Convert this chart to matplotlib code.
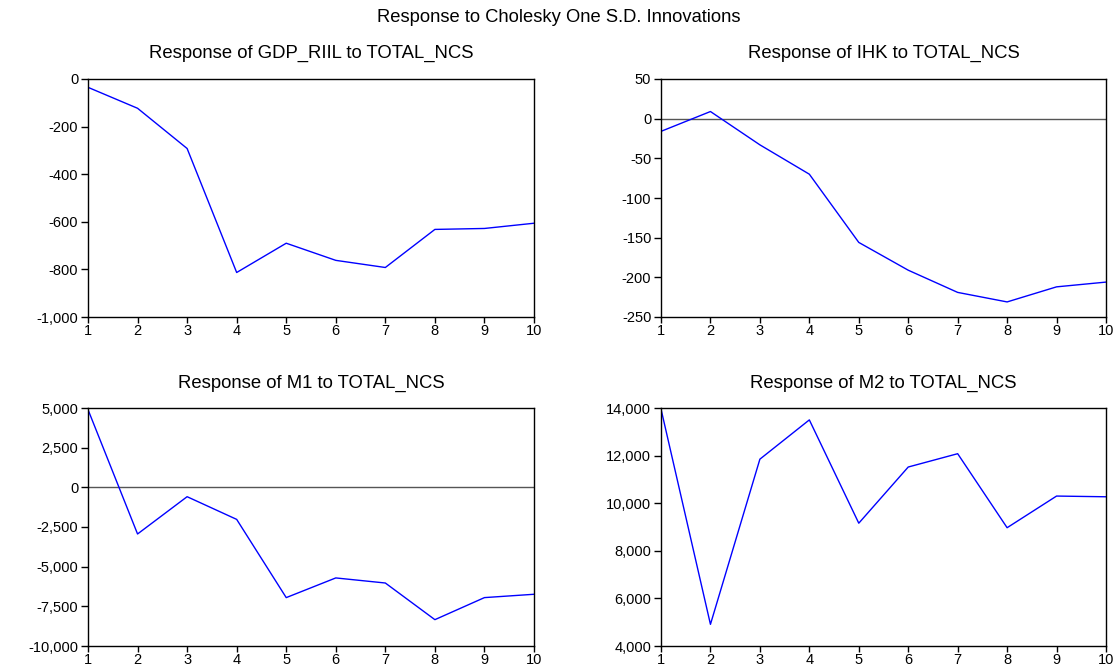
import matplotlib
matplotlib.use("Agg")
import matplotlib.pyplot as plt
from matplotlib.ticker import FuncFormatter

plt.rcParams['font.family'] = ['Liberation Sans', 'DejaVu Sans']

periods = [1, 2, 3, 4, 5, 6, 7, 8, 9, 10]

# responses
gdp_riil = [-35, -123, -292, -813, -690, -762, -792, -632, -628, -606]
ihk = [-16, 9, -33, -70, -156, -191, -219, -231, -212, -206]
m1 = [4900, -2940, -590, -2020, -6950, -5710, -6030, -8340, -6950, -6740]
m2 = [13960, 4910, 11850, 13500, 9160, 11520, 12080, 8970, 10300, 10270]

titles = ["Response of GDP_RIIL to TOTAL_NCS", "Response of IHK to TOTAL_NCS",
          "Response of M1 to TOTAL_NCS", "Response of M2 to TOTAL_NCS"]
ylims = [(-1000, 0), (-250, 50), (-10000, 5000), (4000, 14000)]
yticks = [[-1000, -800, -600, -400, -200, 0],
          [-250, -200, -150, -100, -50, 0, 50],
          [-10000, -7500, -5000, -2500, 0, 2500, 5000],
          [4000, 6000, 8000, 10000, 12000, 14000]]
zero_line = [False, True, True, False]
series = [gdp_riil, ihk, m1, m2]

W, H = 1118, 668
fig = plt.figure(figsize=(W / 100, H / 100), dpi=100)

# axes boxes in pixels: left, top, right, bottom
boxes = [(88, 79, 534, 317), (661, 79, 1106, 317),
         (88, 408, 534, 646), (661, 408, 1106, 646)]
title_y = [53, 53, 383, 383]

fmt = FuncFormatter(lambda v, p: "{:,.0f}".format(v))

for i in range(4):
    l, t, r, b = boxes[i]
    ax = fig.add_axes([l / W, 1 - b / H, (r - l) / W, (b - t) / H])
    if zero_line[i]:
        ax.axhline(0, color="#555555", lw=1.0, zorder=1)
    ax.plot(periods, series[i], color="#0000ff", lw=1.0, zorder=2)
    ax.set_xlim(1, 10)
    ax.set_ylim(*ylims[i])
    ax.set_xticks(periods)
    ax.set_yticks(yticks[i])
    ax.yaxis.set_major_formatter(fmt)
    ax.tick_params(direction="out", width=1, labelsize=10.5,
                   top=False, right=False, colors="black")
    ax.tick_params(axis="y", length=5, pad=2)
    ax.tick_params(axis="x", length=4, pad=1)
    for s in ax.spines.values():
        s.set_linewidth(1.0)
    fig.text((l + r) / 2 / W, 1 - title_y[i] / H, titles[i],
             ha="center", va="center", fontsize=13.3)

fig.text(0.5, 1 - 18 / H, "Response to Cholesky One S.D. Innovations",
         ha="center", va="center", fontsize=13.2)

fig.savefig("out.png", dpi=100)
